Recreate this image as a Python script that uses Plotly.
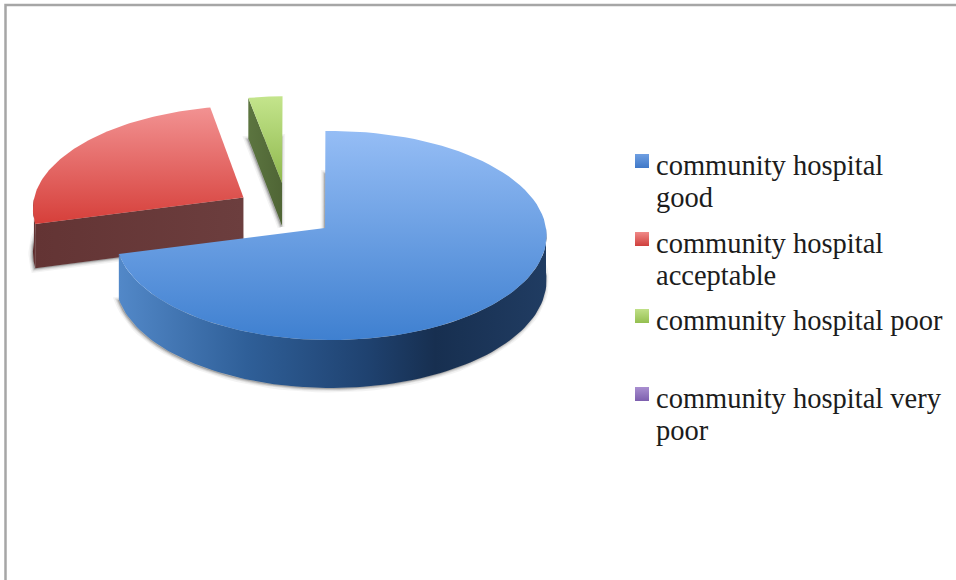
import numpy as np
import plotly.graph_objects as go

# Survey answers for the community hospital, as percentage shares
categories = ["community hospital good", "community hospital acceptable",
              "community hospital poor", "community hospital very poor"]
shares = [71.5, 25.7, 2.8, 0.0]
label_lines = [["community hospital", "good"],
               ["community hospital", "acceptable"],
               ["community hospital poor"],
               ["community hospital very", "poor"]]

# Tilted-disc projection (pixels on a 956x580 canvas)
CX, CY, RX, RY, PERSP, DEPTH = 331.0, 228.0, 215.0, 104.0, 0.0718, 44.5
START_DEG = -1.6
EXPLODE = [(0.0, 0.0), (-0.41, 0.285), (-0.22, 0.395), (0.0, 0.0)]
HUB_OFFSET = [(-0.028, 0.0), (-0.006, 0.015), (-0.015, 0.052), (0.0, 0.0)]

TOP_GRAD = [("#95bdf5", "#3f80d0"), ("#f29292", "#d63f3a"), ("#c4e58c", "#8fb84e"), ("#b39ad6", "#7a5aa8")]
SWATCH = [("#6f9fe2", "#3f78c8"), ("#f08a88", "#cf3f3c"), ("#c0e088", "#94bf50"), ("#a98fd0", "#7d5fae")]
FACE_GRAD = [None, ("#633434", "#6c3e3e"), ("#5c7540", "#4f6535"), None]
RIM_STOPS = [
    [(0.0, "#5288c8"), (0.3, "#2f5f98"), (0.58, "#1f4270"), (0.74, "#172f50"), (1.0, "#203c62")],
    [(0.0, "#5a2a2a"), (1.0, "#6a3838")],
    [(0.0, "#5c7540"), (1.0, "#5c7540")],
    [(0.0, "#555555"), (1.0, "#555555")],
]


def project(u, v, lift=0.0):
    w = 1.0 + PERSP * v
    return CX + RX * u / w, CY - RY * v / w + lift * DEPTH / w


def ring(a0, a1, n=90):
    t = np.radians(np.linspace(a0, a1, n))
    return np.sin(t), np.cos(t)


def vertical(c0, c1):
    return dict(type="vertical", colorscale=[[0, c0], [1, c1]])


fig = go.Figure()


def polygon(x, y, **kw):
    fig.add_trace(go.Scatter(x=x, y=y, mode="lines", fill="toself", hoverinfo="skip",
                             showlegend=False, **kw))


# Cumulative shares give each slice its angular span
ends = START_DEG + 3.6 * np.cumsum(shares)
starts = np.concatenate([[START_DEG], ends[:-1]])

# Later slices sit behind earlier ones, so paint them first
for i in reversed(range(len(shares))):
    if shares[i] <= 0:
        continue
    du, dv = EXPLODE[i]
    ru, rv = ring(starts[i], ends[i])
    ru, rv = ru + du, rv + dv
    hub = (HUB_OFFSET[i][0] + du, HUB_OFFSET[i][1] + dv)

    # Top outline and the same outline at the foot of the wall
    tx, ty = project(np.r_[hub[0], ru], np.r_[hub[1], rv])
    bx, by = project(np.r_[hub[0], ru], np.r_[hub[1], rv], 1.0)

    # Soft drop shadow around the foot of the slice
    for width, alpha in [(7, 0.07), (4, 0.12), (2, 0.18)]:
        polygon(np.r_[bx, bx[0]] - 1, np.r_[by, by[0]] + 1,
                fillcolor=f"rgba(90,90,90,{alpha})",
                line=dict(color=f"rgba(90,90,90,{alpha})", width=width))

    # Cut face running from the hub to the slice's starting radius
    if FACE_GRAD[i] is not None:
        fx = [tx[0], tx[1], bx[1], bx[0], tx[0]]
        fy = [ty[0], ty[1], by[1], by[0], ty[0]]
        c0, c1 = FACE_GRAD[i]
        polygon(fx, fy, line=dict(width=0), fillcolor=c0,
                fillgradient=dict(type="horizontal", colorscale=[[0, c0], [1, c1]]))

    # Outer wall: only the part of the rim that faces the viewer
    a0, a1 = max(starts[i], 90.0), min(ends[i], 270.0)
    if a1 > a0:
        wu, wv = ring(a0, a1)
        wu, wv = wu + du, wv + dv
        ux, uy = project(wu, wv)
        lx, ly = project(wu, wv, 1.0)
        polygon(np.r_[ux, lx[::-1], ux[0]], np.r_[uy, ly[::-1], uy[0]],
                line=dict(width=0), fillcolor=RIM_STOPS[i][0][1],
                fillgradient=dict(type="horizontal",
                                  colorscale=[[p, c] for p, c in RIM_STOPS[i]]))

    # Top face
    c0, c1 = TOP_GRAD[i]
    polygon(np.r_[tx, tx[0]], np.r_[ty, ty[0]], line=dict(width=0), fillcolor=c1,
            fillgradient=vertical(c1, c0))

# Legend swatches and wrapped labels
ROW_Y = [165, 243, 320, 398]
LINE_STEP = 32.5
for i, name in enumerate(categories):
    c0, c1 = SWATCH[i]
    fig.add_trace(go.Scatter(x=[642], y=[ROW_Y[i] - 4], mode="markers", name=name, showlegend=False,
                             marker=dict(symbol="square", size=14, color=c0, line=dict(width=0),
                                         gradient=dict(type="vertical", color=c1))))
    for j, line in enumerate(label_lines[i]):
        fig.add_annotation(x=654, y=ROW_Y[i] + j * LINE_STEP, text=line, showarrow=False,
                           xanchor="left", yanchor="middle", xref="x", yref="y",
                           font=dict(family="Liberation Serif", size=28.5, color="#1c1c1c"))

# Thin grey frame along the top and left edges
fig.add_shape(type="rect", x0=5.5, y0=5, x1=970, y1=600, xref="x", yref="y",
              line=dict(color="#a6a6a6", width=2.5), layer="below")

fig.update_layout(
    width=956, height=580, margin=dict(l=0, r=0, t=0, b=0),
    paper_bgcolor="white", plot_bgcolor="white", showlegend=False,
    xaxis=dict(range=[0, 956], visible=False, fixedrange=True),
    yaxis=dict(range=[580, 0], visible=False, fixedrange=True),
)
fig.write_html("out.html")
